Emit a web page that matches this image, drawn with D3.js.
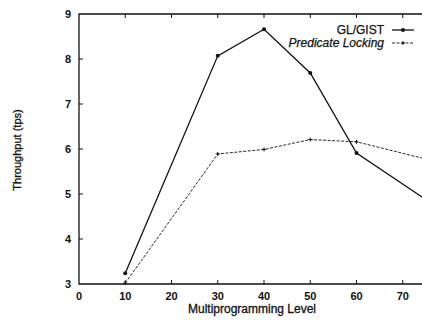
<!DOCTYPE html>
<html>
<head>
<meta charset="utf-8">
<script src="https://cdn.jsdelivr.net/npm/d3@7"></script>
<style>
  html, body { margin: 0; padding: 0; background: #fff; overflow: hidden; }
  svg { display: block; font-family: "Liberation Sans", Arial, sans-serif; }
</style>
</head>
<body>
<div id="chart"></div>
<script>
// values
const levels = [10, 30, 40, 50, 60, 80];
const glGist = [3.24, 8.07, 8.66, 7.69, 5.91, 4.53];
const predLocking = [3.02, 5.89, 5.99, 6.21, 6.16, 5.65];
const xTicks = [0, 10, 20, 30, 40, 50, 60, 70, 80];
const xTickLabels = [0, 10, 20, 30, 40, 50, 60, 70];
const yTicks = [3, 4, 5, 6, 7, 8, 9];

const width = 422, height = 320;
const ink = "#111";

// the plot runs on past the right edge of the page, as in the scan
const x = d3.scaleLinear().domain([0, 80]).range([79, 449]);
const y = d3.scaleLinear().domain([3, 9]).range([284, 14]);

const svg = d3.select("#chart").append("svg")
    .attr("width", width)
    .attr("height", height);

// frame: left, bottom, top
svg.append("path")
    .attr("fill", "none")
    .attr("stroke", ink)
    .attr("stroke-width", 1.3)
    .attr("d", `M${x(80)},${y(9)}H${x(0)}V${y(3)}H${x(80)}`);

// inward ticks
const tl = 4;
svg.append("g").selectAll("line")
    .data(xTicks.slice(1))
    .join("line")
    .attr("x1", d => x(d)).attr("x2", d => x(d))
    .attr("y1", y(3)).attr("y2", y(3) - tl)
    .attr("stroke", ink);
svg.append("g").selectAll("line")
    .data(xTicks.slice(1))
    .join("line")
    .attr("x1", d => x(d)).attr("x2", d => x(d))
    .attr("y1", y(9)).attr("y2", y(9) + tl)
    .attr("stroke", ink);
svg.append("g").selectAll("line")
    .data(yTicks.slice(1, -1))
    .join("line")
    .attr("x1", x(0)).attr("x2", x(0) + tl)
    .attr("y1", d => y(d)).attr("y2", d => y(d))
    .attr("stroke", ink);

// tick labels
svg.append("g")
    .attr("font-size", 11)
    .attr("font-weight", "bold")
    .attr("fill", ink)
    .attr("text-anchor", "middle")
    .selectAll("text")
    .data(xTickLabels)
    .join("text")
    .attr("x", d => x(d))
    .attr("y", 300)
    .text(d => d);

svg.append("g")
    .attr("font-size", 11)
    .attr("font-weight", "bold")
    .attr("fill", ink)
    .attr("text-anchor", "end")
    .selectAll("text")
    .data(yTicks)
    .join("text")
    .attr("x", 71)
    .attr("y", d => y(d) + 4)
    .text(d => d);

// axis titles
svg.append("text")
    .attr("x", 252).attr("y", 313)
    .attr("text-anchor", "middle")
    .attr("font-size", 12)
    .attr("fill", ink)
    .attr("stroke", ink).attr("stroke-width", 0.3)
    .text("Multiprogramming Level");

svg.append("text")
    .attr("transform", "translate(21,150) rotate(-90)")
    .attr("text-anchor", "middle")
    .attr("font-size", 11)
    .attr("fill", ink)
    .attr("stroke", ink).attr("stroke-width", 0.3)
    .text("Throughput (tps)");

// series
const line = d3.line().x(d => x(d[0])).y(d => y(d[1]));
const plot = svg.append("g");

const glPts = levels.map((l, i) => [l, glGist[i]]);
const plPts = levels.map((l, i) => [l, predLocking[i]]);

plot.append("path")
    .attr("d", line(glPts))
    .attr("fill", "none")
    .attr("stroke", ink)
    .attr("stroke-width", 1.3);

plot.append("path")
    .attr("d", line(plPts))
    .attr("fill", "none")
    .attr("stroke", ink)
    .attr("stroke-width", 0.9)
    .attr("stroke-dasharray", "3,1.5");

plot.selectAll(".gl")
    .data(glPts)
    .join("circle")
    .attr("cx", d => x(d[0]))
    .attr("cy", d => y(d[1]))
    .attr("r", 2)
    .attr("fill", ink);

const plus = (px, py, s) => `M${px - s},${py}H${px + s}M${px},${py - s}V${py + s}`;
plot.selectAll(".pl")
    .data(plPts)
    .join("path")
    .attr("d", d => plus(x(d[0]), y(d[1]), 2))
    .attr("stroke", ink)
    .attr("stroke-width", 1);

// legend
const lg = svg.append("g").attr("font-size", 12).attr("fill", ink)
    .attr("stroke", ink).attr("stroke-width", 0.25);
lg.append("text").attr("x", 384).attr("y", 34).attr("text-anchor", "end").text("GL/GIST");
lg.append("text").attr("x", 384).attr("y", 47).attr("text-anchor", "end")
    .attr("font-style", "italic").text("Predicate Locking");

const key = svg.append("g");
key.append("line").attr("x1", 392).attr("x2", 414).attr("y1", 30).attr("y2", 30)
    .attr("stroke", ink).attr("stroke-width", 1.3);
key.append("circle").attr("cx", 403).attr("cy", 30).attr("r", 2).attr("fill", ink);
key.append("line").attr("x1", 392).attr("x2", 414).attr("y1", 43).attr("y2", 43)
    .attr("stroke", ink).attr("stroke-width", 0.9).attr("stroke-dasharray", "3,1.5");
key.append("path").attr("d", plus(403, 43, 2)).attr("stroke", ink).attr("stroke-width", 1);
</script>
</body>
</html>
